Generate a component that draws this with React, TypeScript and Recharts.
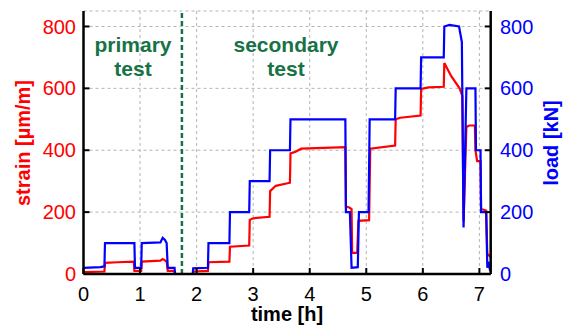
import React from 'react';
import { LineChart, Line, XAxis, YAxis, CartesianGrid, ReferenceLine } from 'recharts';

// load [kN] readings (blue, right axis)
const loadTime = [
  0, 0.3, 0.37, 0.38, 0.9, 0.91, 1.02, 1.03, 1.36, 1.4, 1.44, 1.47, 1.49, 1.61, 1.62,
  1.93, 1.94, 2.2, 2.21, 2.58, 2.59, 2.93, 2.94, 3.29, 3.3, 3.65, 3.66, 4.63, 4.64,
  4.71, 4.74, 4.85, 4.87, 5.04, 5.06, 5.51, 5.52, 5.96, 5.97, 6.37, 6.38, 6.47, 6.64,
  6.69, 6.72, 6.77, 6.93, 6.94, 7.02, 7.03, 7.12, 7.14, 7.16, 7.18, 7.2,
];
const loadKN = [
  20, 22, 25, 100, 100, 20, 20, 100, 102, 117, 110, 100, 20, 20, 0,
  0, 18, 20, 100, 100, 200, 200, 300, 300, 400, 400, 500, 500, 200,
  200, 20, 22, 200, 200, 500, 500, 600, 600, 700, 700, 800, 805, 800,
  750, 150, 600, 600, 400, 400, 200, 200, 20, 40, 20, 30,
];

// strain [µm/m] readings (red, left axis)
const strainTime = [
  0, 0.37, 0.38, 0.6, 0.89, 0.9, 1.02, 1.03, 1.36, 1.4, 1.44, 1.47, 1.49, 1.6, 1.62,
  1.93, 1.95, 2.2, 2.21, 2.58, 2.59, 2.93, 2.94, 3.0, 3.29, 3.3, 3.4, 3.65, 3.66, 3.75,
  3.85, 4.63, 4.64, 4.7, 4.74, 4.75, 4.84, 4.86, 5.05, 5.07, 5.51, 5.52, 5.6, 5.96,
  5.97, 6.1, 6.37, 6.38, 6.5, 6.65, 6.7, 6.72, 6.77, 6.82, 6.92, 6.93, 6.96, 7.02,
  7.03, 7.12, 7.14, 7.2,
];
const strainUm = [
  6, 8, 36, 38, 40, 10, 10, 40, 43, 48, 44, 40, 10, 10, 0,
  0, 8, 10, 38, 40, 88, 92, 175, 180, 185, 268, 285, 295, 390, 395,
  405, 410, 218, 215, 210, 68, 68, 172, 174, 405, 415, 500, 505, 512,
  598, 603, 605, 682, 640, 600, 575, 170, 475, 480, 480, 400, 365, 365,
  210, 205, 65, 55,
];

const timeTicks = [0, 1, 2, 3, 4, 5, 6, 7];
const valueTicks = [0, 200, 400, 600, 800];
const phaseSplit = 1.74;

const loadData = loadTime.map((t, i) => ({ t, v: loadKN[i] }));
const strainData = strainTime.map((t, i) => ({ t, v: strainUm[i] }));

const FONT = '"Liberation Sans", Arial, sans-serif';
const GREEN = '#177245';

export default function App() {
  return (
    <div style={{ position: 'absolute', left: 0, top: 0, width: 567, height: 328, background: '#fff', fontFamily: FONT }}>
      <LineChart width={567} height={328} margin={{ top: 11, right: 0, bottom: 0, left: 0 }}>
        <CartesianGrid stroke="#b4b4b4" strokeDasharray="3 3" />
        <XAxis
          dataKey="t"
          type="number"
          domain={[0, 7.2]}
          ticks={timeTicks}
          height={54}
          tickSize={-6}
          tickMargin={19}
          axisLine={{ stroke: '#000', strokeWidth: 2.5 }}
          tickLine={{ stroke: '#000', strokeWidth: 2 }}
          tick={{ fill: '#000', fontSize: 20, fontFamily: FONT }}
        />
        <XAxis
          xAxisId="top"
          orientation="top"
          dataKey="t"
          type="number"
          domain={[0, 7.2]}
          ticks={timeTicks}
          height={0}
          tickSize={-6}
          tickFormatter={() => ''}
          axisLine={{ stroke: '#000', strokeWidth: 2.5 }}
          tickLine={{ stroke: '#000', strokeWidth: 2 }}
        />
        <YAxis
          type="number"
          domain={[0, 850]}
          ticks={valueTicks}
          width={83.5}
          tickSize={-6}
          tickMargin={13.5}
          axisLine={{ stroke: '#000', strokeWidth: 2.5 }}
          tickLine={{ stroke: '#000', strokeWidth: 2 }}
          tick={{ fill: '#ff0000', fontSize: 20, fontFamily: FONT }}
        />
        <YAxis
          yAxisId="right"
          orientation="right"
          type="number"
          domain={[0, 850]}
          ticks={valueTicks}
          width={76.3}
          tickSize={-6}
          tickMargin={15.3}
          axisLine={{ stroke: '#000', strokeWidth: 2.5 }}
          tickLine={{ stroke: '#000', strokeWidth: 2 }}
          tick={{ fill: '#0000ff', fontSize: 20, fontFamily: FONT, textAnchor: 'start' }}
        />
        <ReferenceLine x={phaseSplit} stroke={GREEN} strokeWidth={2.5} strokeDasharray="5 3" />
        <Line
          data={strainData}
          dataKey="v"
          type="linear"
          stroke="#ff0000"
          strokeWidth={2.2}
          dot={false}
          isAnimationActive={false}
        />
        <Line
          data={loadData}
          yAxisId="right"
          dataKey="v"
          type="linear"
          stroke="#0000ff"
          strokeWidth={2.2}
          dot={false}
          isAnimationActive={false}
        />
      </LineChart>
      <svg width={567} height={328} style={{ position: 'absolute', left: 0, top: 0, pointerEvents: 'none' }}>
        <g fontFamily={FONT} fontWeight="bold" fontSize={21} fill={GREEN} textAnchor="middle">
          <text x={133} y={52}>primary</text>
          <text x={133} y={76}>test</text>
          <text x={286} y={52}>secondary</text>
          <text x={286} y={76}>test</text>
        </g>
        <text x={287} y={321} fontFamily={FONT} fontWeight="bold" fontSize={20} textAnchor="middle" fill="#000">
          time [h]
        </text>
        <text
          transform="translate(30,143) rotate(-90)"
          fontFamily={FONT}
          fontWeight="bold"
          fontSize={20}
          textAnchor="middle"
          fill="#ff0000"
        >
          strain [µm/m]
        </text>
        <text
          transform="translate(558,143) rotate(-90)"
          fontFamily={FONT}
          fontWeight="bold"
          fontSize={20}
          textAnchor="middle"
          fill="#0000ff"
        >
          load [kN]
        </text>
      </svg>
    </div>
  );
}
